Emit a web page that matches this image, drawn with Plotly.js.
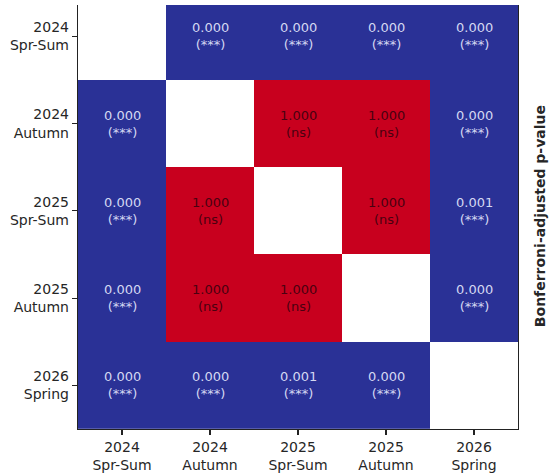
<!DOCTYPE html>
<html>
<head>
<meta charset="utf-8">
<script src="https://cdn.plot.ly/plotly-3.0.1.min.js"></script>
<style>html,body{margin:0;padding:0;background:#fff;}#chart{width:550px;height:475px;}</style>
</head>
<body>
<div id="chart"></div>
<script>
const periods = ["2024<br>Spr-Sum", "2024<br>Autumn", "2025<br>Spr-Sum", "2025<br>Autumn", "2026<br>Spring"];
const pValues = [
  [null, 0.000, 0.000, 0.000, 0.000],
  [0.000, null, 1.000, 1.000, 0.000],
  [0.000, 1.000, null, 1.000, 0.001],
  [0.000, 1.000, 1.000, null, 0.000],
  [0.000, 0.000, 0.001, 0.000, null]
];
const sigLabels = [
  [null, "***", "***", "***", "***"],
  ["***", null, "ns", "ns", "***"],
  ["***", "ns", null, "ns", "***"],
  ["***", "ns", "ns", null, "***"],
  ["***", "***", "***", "***", null]
];
const colorTitle = "Bonferroni-adjusted p-value";

const idx = periods.map((_, i) => i);
const BLUE = "#2a3196", RED = "#c8001e";

const trace = {
  type: "heatmap",
  x: idx, y: idx, z: pValues,
  zmin: 0, zmax: 1,
  colorscale: [[0, BLUE], [0.05, BLUE], [0.0501, RED], [1, RED]],
  showscale: false,
  hoverongaps: false
};

const annotations = [];
pValues.forEach((row, r) => row.forEach((v, c) => {
  if (v === null) return;
  annotations.push({
    x: c, y: r, xref: "x", yref: "y",
    text: v.toFixed(3) + "<br>(" + sigLabels[r][c] + ")",
    showarrow: false,
    font: {family: "DejaVu Sans", size: 13, color: v > 0.05 ? "#4a0010" : "#d4d8f2"}
  });
}));
annotations.push({
  xref: "paper", yref: "paper", x: 1.05, y: 0.502,
  xanchor: "center", yanchor: "middle", textangle: -90,
  text: "<b>" + colorTitle + "</b>", showarrow: false,
  font: {family: "DejaVu Sans", size: 14, color: "#262626"}
});

const axisCommon = {
  tickmode: "array", tickvals: idx, ticktext: periods,
  ticks: "outside", ticklen: 5, tickwidth: 1.2, tickcolor: "#222",
  showline: true, linecolor: "#222", linewidth: 1.2,
  showgrid: false, zeroline: false,
  tickfont: {family: "DejaVu Sans", size: 14, color: "#262626"}
};

const layout = {
  width: 550, height: 475,
  margin: {l: 78, r: 32, t: 5, b: 46},
  paper_bgcolor: "#fff", plot_bgcolor: "#fff",
  xaxis: Object.assign({}, axisCommon, {range: [-0.5, 4.5], mirror: false}),
  yaxis: Object.assign({}, axisCommon, {range: [4.5, -0.36], mirror: true}),
  annotations: annotations,
  showlegend: false
};

Plotly.newPlot("chart", [trace], layout, {displayModeBar: false, staticPlot: true});
</script>
</body>
</html>
